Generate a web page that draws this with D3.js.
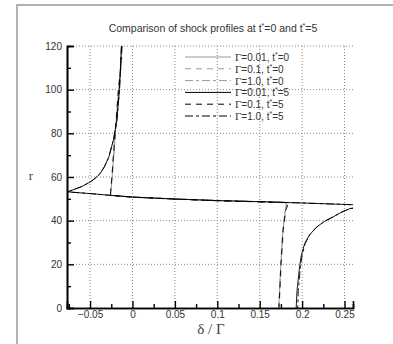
<!DOCTYPE html>
<html>
<head>
<meta charset="utf-8">
<script src="https://cdn.jsdelivr.net/npm/d3@7"></script>
<style>
	body { margin: 0; background: #fff; }
	svg { display: block; }
	.tick-label { font-family: "Liberation Sans", Arial, sans-serif; font-size: 10px; fill: #333; }
	.grid line { stroke: #888; stroke-dasharray: 1,2; }
</style>
</head>
<body>
<div class="container"></div>
<script>
var	WIDTH = 393,
	HEIGHT = 344,
	LEFT = 67,
	RIGHT = 353,
	TOP = 46,
	BOTTOM = 308;

// tick values
var xTicks = [-0.05, 0, 0.05, 0.1, 0.15, 0.2, 0.25],
	xMinor = [-0.075, -0.025, 0.025, 0.075, 0.125, 0.175, 0.225],
	yTicks = [0, 20, 40, 60, 80, 100, 120],
	yMinor = [10, 30, 50, 70, 90, 110];

var labels = ['0.01, t*=0', '0.1, t*=0', '1.0, t*=0', '0.01, t*=5', '0.1, t*=5', '1.0, t*=5'];

// [delta/Gamma, r]
var g001t0 = [[-0.0125,120],[-0.0135,112],[-0.0165,100],[-0.020,81],[-0.0224,69],[-0.024,60],[-0.026,51.6],
	[0,50.8],[0.05,49.9],[0.1,49.2],[0.15,48.7],[0.182,48.3],[0.1805,44.8],[0.1775,35.6],[0.175,20],[0.1725,0]];
var g01t0 = [[-0.0128,120],[-0.014,110],[-0.017,98],[-0.0205,80],[-0.0228,68],[-0.0245,59],[-0.0262,51.5],
	[0,50.7],[0.05,49.8],[0.1,49.2],[0.15,48.6],[0.183,48.3],[0.181,45],[0.178,36],[0.1755,20],[0.173,0]];
var g10t0 = [[-0.012,120],[-0.013,112],[-0.016,100],[-0.0198,82],[-0.022,70],[-0.0238,60],[-0.0258,51.7],
	[0,50.9],[0.05,50.0],[0.1,49.3],[0.15,48.7],[0.1815,48.4],[0.180,44.6],[0.177,35.4],[0.1748,20],[0.1723,0]];
var g001t5 = [[-0.013,120],[-0.0153,100],[-0.0184,86],[-0.0224,77],[-0.028,69],[-0.033,64.8],[-0.038,61.6],[-0.044,59.4],[-0.050,57.7],[-0.06,55.6],[-0.077,53.1],[-0.085,52.6],
	[-0.08,53.3],[-0.05,52.4],[-0.026,51.6],[0,50.8],[0.05,49.9],[0.1,49.2],[0.15,48.7],[0.2,48.1],[0.26,47.3],[0.27,47.1],
	[0.27,46.3],[0.256,45.5],[0.245,43.6],[0.2365,41.7],[0.226,39.6],[0.217,37],[0.209,33.6],[0.203,29.5],[0.199,24],[0.197,18.8],[0.194,8],[0.193,0]];
var g01t5 = [[-0.0125,120],[-0.0138,110],[-0.0168,99],[-0.0202,81],[-0.0226,69],[-0.0242,60],[-0.026,51.6],
	[0,50.8],[0.05,49.9],[0.1,49.1],[0.15,48.6],[0.1835,48.2],[0.1825,46.5],[0.1805,44.8],[0.1775,35.6],[0.175,20],[0.1727,0]];
var g10t5 = [[-0.013,120],[-0.0153,100],[-0.0184,86],[-0.0224,77],[-0.028,69],[-0.033,64.8],[-0.038,61.6],[-0.044,59.4],[-0.050,57.7],[-0.06,55.6],[-0.077,53.1],[-0.085,52.6],
	[-0.08,53.3],[-0.05,52.4],[-0.026,51.6],[0,50.8],[0.05,49.9],[0.1,49.2],[0.15,48.7],[0.2,48.1],[0.26,47.3],[0.27,47.1],
	[0.27,46.3],[0.256,45.5],[0.245,43.6],[0.2365,41.7],[0.226,39.6],[0.217,37],[0.209,33.6],[0.2035,29.5],[0.2,24],[0.198,18.8],[0.1955,8],[0.1948,0]];

var series = [g001t0, g01t0, g10t0, g001t5, g01t5, g10t5],
	colors = ['#9a9a9a', '#9a9a9a', '#9a9a9a', '#000', '#000', '#000'],
	dashes = [null, '6,5', '8,3,3,3', null, '6,5', '8,3,3,3'];

var xScale = d3.scaleLinear().domain([-0.0772, 0.26]).range([LEFT, RIGHT]),
	yScale = d3.scaleLinear().domain([0, 120]).range([BOTTOM, TOP]);

function translate(x, y) {
	return 'translate(' + x + ',' + y + ')';
}

var svg = d3.select('.container').append('svg')
	.attr('width', WIDTH)
	.attr('height', HEIGHT);

// outer frame
svg.append('rect')
	.attr('x', 17).attr('y', 5)
	.attr('width', 400).attr('height', 360)
	.attr('fill', 'none')
	.attr('stroke', '#999')
	.attr('stroke-width', 1.5);

svg.append('text')
	.attr('x', 213).attr('y', 32)
	.attr('text-anchor', 'middle')
	.style('font-family', '"Liberation Sans", Arial, sans-serif')
	.style('font-size', '10.5px')
	.style('fill', '#333')
	.html('Comparison of shock profiles at t<tspan dy="-4" font-size="7">*</tspan><tspan dy="4">=0 and t</tspan><tspan dy="-4" font-size="7">*</tspan><tspan dy="4">=5</tspan>');

// grid
var grid = svg.append('g').attr('class', 'grid');
grid.selectAll('.vg').data(xTicks).enter().append('line')
	.attr('x1', function(d) { return xScale(d); })
	.attr('x2', function(d) { return xScale(d); })
	.attr('y1', TOP).attr('y2', BOTTOM);
grid.selectAll('.hg').data(yTicks.slice(1)).enter().append('line')
	.attr('x1', LEFT).attr('x2', RIGHT)
	.attr('y1', function(d) { return yScale(d); })
	.attr('y2', function(d) { return yScale(d); });

// axes
var xAxis = d3.axisBottom(xScale).tickValues(xTicks).tickSize(-7).tickPadding(3)
	.tickFormat(function(d) { return d === 0 ? '0' : d3.format('')(d); });
var xAxisMinor = d3.axisBottom(xScale).tickValues(xMinor).tickSize(-4).tickFormat('');
var yAxis = d3.axisLeft(yScale).tickValues(yTicks).tickSize(-7).tickPadding(5);
var yAxisMinor = d3.axisLeft(yScale).tickValues(yMinor).tickSize(-4).tickFormat('');

[svg.append('g').attr('transform', translate(0, BOTTOM)).call(xAxis),
 svg.append('g').attr('transform', translate(0, BOTTOM)).call(xAxisMinor),
 svg.append('g').attr('transform', translate(LEFT, 0)).call(yAxis),
 svg.append('g').attr('transform', translate(LEFT, 0)).call(yAxisMinor)].forEach(function(g) {
	g.select('.domain').attr('stroke', '#000').attr('stroke-width', 1.6);
	g.selectAll('.tick line').attr('stroke', '#000').attr('stroke-width', 1.4);
	g.selectAll('.tick text').attr('class', 'tick-label');
});

// curves
svg.append('clipPath').attr('id', 'plot')
	.append('rect')
	.attr('x', LEFT).attr('y', TOP)
	.attr('width', RIGHT - LEFT).attr('height', BOTTOM - TOP);

var line = d3.line()
	.x(function(d) { return xScale(d[0]); })
	.y(function(d) { return yScale(d[1]); });

svg.append('g').attr('clip-path', 'url(#plot)')
	.selectAll('path').data(series).enter().append('path')
	.attr('d', line)
	.attr('fill', 'none')
	.attr('stroke', function(d, i) { return colors[i]; })
	.attr('stroke-dasharray', function(d, i) { return dashes[i]; })
	.attr('stroke-width', 0.9);

// legend
var legend = svg.append('g').selectAll('g').data(labels).enter().append('g')
	.attr('transform', function(d, i) { return translate(185, 57 + i * 11.8); });
legend.append('line')
	.attr('x1', 0).attr('x2', 46)
	.attr('stroke', function(d, i) { return colors[i]; })
	.attr('stroke-dasharray', function(d, i) { return dashes[i]; })
	.attr('stroke-width', 1);
legend.append('text')
	.attr('x', 50).attr('y', 4)
	.style('font-family', '"Liberation Sans", Arial, sans-serif')
	.style('font-size', '10px')
	.style('fill', '#333')
	.html(function(d) {
		var p = d.split(', t*');
		return '<tspan font-family="Liberation Serif" font-size="11">Γ</tspan>=' + p[0] +
			', t<tspan dy="-4" font-size="7">*</tspan><tspan dy="4">' + p[1] + '</tspan>';
	});

// axis titles
svg.append('text')
	.attr('x', 211).attr('y', 334)
	.attr('text-anchor', 'middle')
	.style('font-family', '"Liberation Serif", serif')
	.style('font-size', '15px')
	.style('fill', '#444')
	.text('δ / Γ');
svg.append('text')
	.attr('x', 31).attr('y', 180)
	.attr('text-anchor', 'middle')
	.style('font-family', '"Liberation Serif", serif')
	.style('font-size', '13px')
	.style('fill', '#444')
	.text('r');
</script>
</body>
</html>
